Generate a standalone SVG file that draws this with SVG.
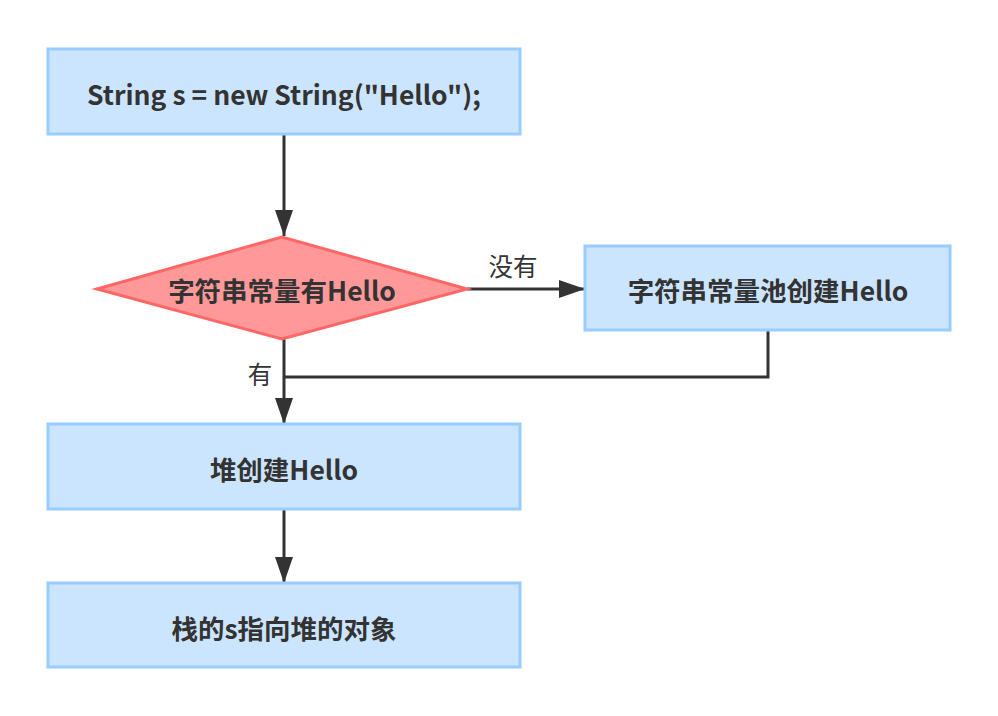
<svg xmlns="http://www.w3.org/2000/svg" width="998" height="716" viewBox="0 0 998 716">
<style>
.box{fill:#cce5ff;stroke:#99ccff;stroke-width:3}
.dia{fill:#ff9999;stroke:#ff6666;stroke-width:3}
.t{font-family:"Noto Sans CJK SC","Noto Sans",sans-serif;font-weight:bold;font-size:26.5px;fill:#333;text-anchor:middle;dominant-baseline:central}
.lbl{font-family:"Noto Sans CJK SC","Noto Sans",sans-serif;font-size:24.5px;fill:#333;text-anchor:middle;dominant-baseline:central}
.c{fill:none;stroke:#333;stroke-width:3}
</style>
<defs>
<marker id="ah" markerUnits="userSpaceOnUse" markerWidth="26" markerHeight="18" refX="26" refY="9" orient="auto">
<path d="M0,0 L26,9 L0,18 Z" fill="#333"/>
</marker>
</defs>
<g id="connectors">
<path class="c" d="M284,134 L284,236" marker-end="url(#ah)"/>
<path class="c" d="M467,289 L585,289" marker-end="url(#ah)"/>
<path class="c" d="M768,330 L768,377 L284,377"/>
<path class="c" d="M284,339 L284,424" marker-end="url(#ah)"/>
<path class="c" d="M284,509 L284,583" marker-end="url(#ah)"/>
<text class="lbl" x="513" y="265">没有</text>
<text class="lbl" x="260" y="373">有</text>
</g>
<g id="n1">
<rect class="box" x="48" y="49" width="472" height="85"/>
<text class="t" x="284" y="93">String s = new String("Hello");</text>
</g>
<g id="n2">
<polygon class="dia" points="97,289 282,237 467,289 282,339"/>
<text class="t" x="282" y="289">字符串常量有Hello</text>
</g>
<g id="n3">
<rect class="box" x="585" y="246" width="365" height="84"/>
<text class="t" x="768" y="289">字符串常量池创建Hello</text>
</g>
<g id="n4">
<rect class="box" x="48" y="424" width="472" height="85"/>
<text class="t" x="284" y="468">堆创建Hello</text>
</g>
<g id="n5">
<rect class="box" x="48" y="583" width="472" height="84"/>
<text class="t" x="284" y="627">栈的s指向堆的对象</text>
</g>
</svg>
